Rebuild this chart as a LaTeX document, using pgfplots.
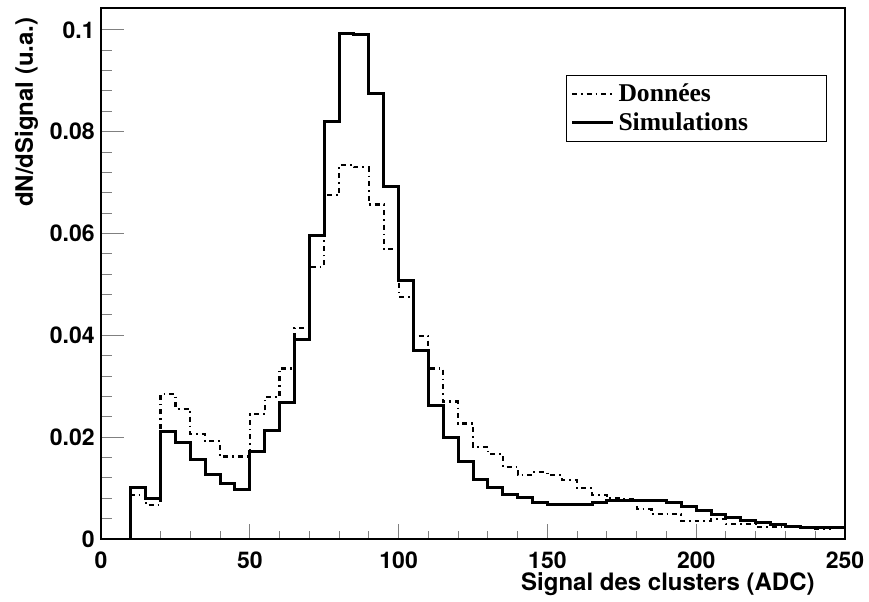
\documentclass[border=0pt]{standalone}
\usepackage{pgfplots}
\pgfplotsset{compat=1.18}
\usepackage{fontspec}
\newfontfamily\helv{TeX Gyre Heros}
\newfontfamily\tms{Liberation Serif}

\pgfplotstableread{
x y
0 0
5 0
10 0.0087
15 0.0067
20 0.0285
25 0.0256
30 0.0206
35 0.0192
40 0.0162
45 0.0162
50 0.0245
55 0.0279
60 0.0335
65 0.0414
70 0.0535
75 0.0675
80 0.0734
85 0.0730
90 0.0657
95 0.0569
100 0.0476
105 0.0399
110 0.0335
115 0.0270
120 0.0227
125 0.0181
130 0.0167
135 0.0142
140 0.0125
145 0.0131
150 0.0125
155 0.0116
160 0.0100
165 0.0087
170 0.0080
175 0.0078
180 0.0059
185 0.0049
190 0.0049
195 0.0036
200 0.0035
205 0.0039
210 0.0029
215 0.0029
220 0.0023
225 0.0023
230 0.0023
235 0.0022
240 0.0020
245 0.0021
250 0.0021
}\donnees

\pgfplotstableread{
x y
0 0
5 0
10 0.0102
15 0.0080
20 0.0211
25 0.0189
30 0.0157
35 0.0127
40 0.0109
45 0.0098
50 0.0171
55 0.0213
60 0.0269
65 0.0392
70 0.0596
75 0.0820
80 0.0992
85 0.0991
90 0.0875
95 0.0693
100 0.0508
105 0.0371
110 0.0263
115 0.0199
120 0.0152
125 0.0117
130 0.0101
135 0.0088
140 0.0081
145 0.0072
150 0.0067
155 0.0067
160 0.0067
165 0.0071
170 0.0076
175 0.0075
180 0.0076
185 0.0076
190 0.0072
195 0.0063
200 0.0056
205 0.0048
210 0.0042
215 0.0036
220 0.0032
225 0.0029
230 0.0025
235 0.0023
240 0.0022
245 0.0022
250 0.0022
}\simus

\begin{document}
\begin{tikzpicture}
\begin{axis}[
    scale only axis,
    width=372pt, height=265.5pt,
    xmin=0, xmax=250, ymin=0, ymax=0.1043,
    axis line style={line width=0.7pt},
    tick pos=left, tick align=inside,
    xtick={0,50,100,150,200,250},
    xticklabels={0,50,100,150,200,250},
    minor x tick num=4,
    ytick={0,0.02,0.04,0.06,0.08,0.1},
    yticklabels={0,0.02,0.04,0.06,0.08,0.1},
    minor y tick num=4,
    xtick style={/pgfplots/major tick length=7.5pt, /pgfplots/minor tick length=3.8pt, line width=0.5pt},
    ytick style={/pgfplots/major tick length=11.5pt, /pgfplots/minor tick length=5.5pt, line width=0.5pt},
    ticklabel style={font=\helv\bfseries\fontsize{11.5}{13}\selectfont, inner sep=0pt},
    xticklabel style={anchor=north, yshift=-6pt},
    yticklabel style={anchor=east, xshift=-3pt},
    xlabel={Signal des clusters (ADC)},
    ylabel={dN/dSignal (u.a.)},
    label style={font=\helv\bfseries\fontsize{12}{14}\selectfont, inner sep=0pt},
    xlabel style={at={([xshift=-15pt,yshift=-25.5pt]rel axis cs:1,0)}, anchor=base east},
    ylabel style={at={([xshift=-34pt,yshift=-4.5pt]rel axis cs:0,1)}, anchor=base east, rotate=0},
    legend style={at={(rel axis cs:0.625,0.8738)}, anchor=north west,
        draw=black, line width=0.5pt, fill=white,
        font=\tms\bfseries\fontsize{12.8}{14}\selectfont,
        inner xsep=2pt, inner ysep=2pt, row sep=0pt},
    legend cell align=left,
    legend image code/.code={\draw[#1] (0pt,0pt) -- (20.5pt,0pt);},
]
\addplot[const plot mark left, black, line width=1.1pt,
    dash pattern=on 2.5pt off 2pt on 0.8pt off 2pt] table[x=x,y=y] {\donnees};
\addlegendentry{\makebox[100pt][l]{Données}}
\addplot[const plot mark left, black, line width=1.5pt] table[x=x,y=y] {\simus};
\addlegendentry{\makebox[100pt][l]{Simulations}}
\coordinate (bl) at (rel axis cs:0,0);
\coordinate (tr) at (rel axis cs:1,1);
\end{axis}
\pgfresetboundingbox
\path ([shift={(-50.5pt,-31pt)}]bl) rectangle ([shift={(12pt,4pt)}]tr);
\end{tikzpicture}
\end{document}
